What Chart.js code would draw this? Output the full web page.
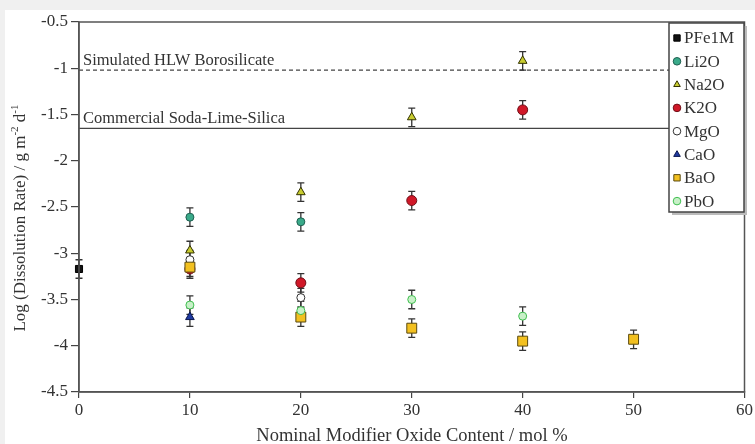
<!DOCTYPE html>
<html>
<head>
<meta charset="utf-8">
<script src="https://cdn.jsdelivr.net/npm/chart.js@4/dist/chart.umd.min.js"></script>
<style>
html,body{margin:0;padding:0;background:#f0f0f0;}
canvas{display:block;}
</style>
</head>
<body>
<canvas id="c" width="755" height="444"></canvas>
<script>
// ---- data ----
const seriesNames = ["PFe1M","Li2O","Na2O","K2O","MgO","CaO","BaO","PbO"];
const xPFe1M = [0];                 const yPFe1M = [-3.17];
const xLi2O  = [10,20];             const yLi2O  = [-2.61,-2.66];
const xNa2O  = [10,20,30,40];       const yNa2O  = [-2.97,-2.34,-1.53,-0.92];
const xK2O   = [10,20,30,40];       const yK2O   = [-3.17,-3.32,-2.43,-1.45];
const xMgO   = [10,20];             const yMgO   = [-3.07,-3.48];
const xCaO   = [10];                const yCaO   = [-3.69];
const xBaO   = [10,20,30,40,50];    const yBaO   = [-3.15,-3.69,-3.81,-3.95,-3.93];
const xPbO   = [10,20,30,40];       const yPbO   = [-3.56,-3.62,-3.50,-3.68];
const errPFe1M=[0.1]; const errLi2O=[0.1,0.1]; const errNa2O=[0.1,0.1,0.1,0.1];
const errK2O=[0.1,0.1,0.1,0.1]; const errMgO=[0.1,0.1]; const errCaO=[0.1];
const errBaO=[0.1,0.1,0.1,0.1,0.1]; const errPbO=[0.1,0.1,0.1,0.1];
const refLabels = ["Simulated HLW Borosilicate","Commercial Soda-Lime-Silica"];
const refValues = [-1.02,-1.65];
const xTicks = [0,10,20,30,40,50,60];
const yTicks = [-0.5,-1,-1.5,-2,-2.5,-3,-3.5,-4,-4.5];
const xTitle = 'Nominal Modifier Oxide Content / mol %';
const yTitleParts = [['Log (Dissolution Rate) / g m',0],['-2',1],[' d',0],['-1',1]];

const styles = [
  {pointStyle:'rect',     bg:'#111111', bc:'#000000', r:5},
  {pointStyle:'circle',   bg:'#3aaa8a', bc:'#1f5f50', r:4},
  {pointStyle:'triangle', bg:'#c8cc30', bc:'#333300', r:5},
  {pointStyle:'circle',   bg:'#d01828', bc:'#701018', r:5},
  {pointStyle:'circle',   bg:'#ffffff', bc:'#333333', r:4},
  {pointStyle:'triangle', bg:'#1f3aa0', bc:'#0a1650', r:5},
  {pointStyle:'rect',     bg:'#f2c020', bc:'#5a4a10', r:7},
  {pointStyle:'circle',   bg:'#c8f0c8', bc:'#40c050', r:4}
];
const xs = [xPFe1M,xLi2O,xNa2O,xK2O,xMgO,xCaO,xBaO,xPbO];
const ys = [yPFe1M,yLi2O,yNa2O,yK2O,yMgO,yCaO,yBaO,yPbO];
const es = [errPFe1M,errLi2O,errNa2O,errK2O,errMgO,errCaO,errBaO,errPbO];

const datasets = seriesNames.map((n,i)=>({
  label:n,
  order:-i,
  data: xs[i].map((x,j)=>({x:x,y:ys[i][j],e:es[i][j]})),
  showLine:false,
  clip:false,
  pointStyle:styles[i].pointStyle,
  pointRadius:styles[i].r,
  pointHoverRadius:styles[i].r,
  backgroundColor:styles[i].bg,
  borderColor:styles[i].bc,
  pointBorderWidth:1
}));

const SERIF = '"Liberation Serif","DejaVu Serif",serif';

const bgPlugin = {
  id:'bg',
  beforeDraw(chart){
    const ctx = chart.ctx;
    ctx.save();
    ctx.fillStyle = '#f0f0f0';
    ctx.fillRect(0,0,chart.width,chart.height);
    ctx.fillStyle = '#ffffff';
    ctx.fillRect(5,10,chart.width-5,chart.height-10);
    ctx.restore();
  }
};

const refPlugin = {
  id:'refs',
  beforeDatasetsDraw(chart){
    const ctx = chart.ctx, xs_ = chart.scales.x, ys_ = chart.scales.y, a = chart.chartArea;
    ctx.save();
    refValues.forEach((v,i)=>{
      const py = ys_.getPixelForValue(v);
      ctx.beginPath();
      ctx.strokeStyle = '#444';
      ctx.lineWidth = 1.2;
      ctx.setLineDash(i===0 ? [4,3] : []);
      ctx.moveTo(a.left, py); ctx.lineTo(a.right, py); ctx.stroke();
      ctx.setLineDash([]);
      ctx.fillStyle = '#333';
      ctx.font = '16.5px ' + SERIF;
      ctx.textBaseline = 'alphabetic';
      ctx.fillText(refLabels[i], a.left + 4, py - 5);
    });
    ctx.strokeStyle = '#333';
    ctx.lineWidth = 1.3;
    chart.data.datasets.forEach(ds=>{
      ds.data.forEach(p=>{
        const px = xs_.getPixelForValue(p.x);
        const top = ys_.getPixelForValue(p.y + p.e);
        const bot = ys_.getPixelForValue(p.y - p.e);
        ctx.beginPath();
        ctx.moveTo(px, top); ctx.lineTo(px, bot);
        ctx.moveTo(px-3.5, top); ctx.lineTo(px+3.5, top);
        ctx.moveTo(px-3.5, bot); ctx.lineTo(px+3.5, bot);
        ctx.stroke();
      });
    });
    ctx.restore();
  },
  afterDraw(chart){
    const ctx = chart.ctx, a = chart.chartArea;
    ctx.save();
    ctx.strokeStyle = '#555';
    ctx.lineWidth = 1.5;
    ctx.strokeRect(a.left, a.top, a.right - a.left, a.bottom - a.top);
    // y title with superscripts
    ctx.save();
    ctx.translate(21, 218);
    ctx.rotate(-Math.PI/2);
    ctx.fillStyle = '#333';
    ctx.textBaseline = 'middle';
    const fN = '17px ' + SERIF, fS = '11px ' + SERIF;
    let total = 0;
    yTitleParts.forEach(p=>{ ctx.font = p[1]?fS:fN; total += ctx.measureText(p[0]).width; });
    let cx = -total/2;
    yTitleParts.forEach(p=>{
      ctx.font = p[1]?fS:fN;
      ctx.fillText(p[0], cx, p[1] ? -6 : 0);
      cx += ctx.measureText(p[0]).width;
    });
    ctx.restore();
    // x title
    ctx.fillStyle = '#333';
    ctx.font = '18.5px ' + SERIF;
    ctx.textAlign = 'center';
    ctx.textBaseline = 'middle';
    ctx.fillText(xTitle, 412, 436);
    ctx.textAlign = 'left';
    // legend box
    const bx = 669, by = 23, bw = 75, bh = 189;
    ctx.fillStyle = '#bbb';
    ctx.fillRect(bx+3, by+3, bw, bh);
    ctx.fillStyle = '#fff';
    ctx.fillRect(bx, by, bw, bh);
    ctx.strokeStyle = '#444';
    ctx.lineWidth = 1.5;
    ctx.strokeRect(bx, by, bw, bh);
    ctx.font = '17px ' + SERIF;
    ctx.textBaseline = 'middle';
    chart.data.datasets.forEach((ds,i)=>{
      const cy = by + 15 + i*23.3;
      ctx.save();
      ctx.fillStyle = ds.backgroundColor; ctx.strokeStyle = ds.borderColor; ctx.lineWidth = 1;
      Chart.helpers.drawPoint(ctx, {
        pointStyle: ds.pointStyle, radius: ds.pointStyle==='rect' ? 4.5 : 3.8, rotation:0, borderWidth:1
      }, bx + 8, cy);
      ctx.restore();
      ctx.fillStyle = '#333';
      ctx.fillText(ds.label, bx + 15, cy + 1);
    });
    ctx.restore();
  }
};

new Chart(document.getElementById('c'), {
  type:'scatter',
  data:{datasets},
  plugins:[bgPlugin, refPlugin],
  options:{
    responsive:false,
    animation:false,
    devicePixelRatio:1,
    layout:{padding:{top:22,right:9,left:0,bottom:0}},
    plugins:{legend:{display:false},tooltip:{enabled:false}},
    scales:{
      x:{
        type:'linear', min:0, max:60,
        afterBuildTicks(s){ s.ticks = xTicks.map(v=>({value:v})); },
        afterFit(s){ s.height = 52; },
        grid:{display:true, drawOnChartArea:false, drawTicks:true, tickLength:6, color:'#444', lineWidth:1.2},
        border:{color:'#555', width:1.5},
        ticks:{color:'#333', font:{family:SERIF, size:17}, padding:2, maxRotation:0, callback:v=>String(v)},
        title:{display:false}
      },
      y:{
        type:'linear', min:-4.5, max:-0.5,
        afterBuildTicks(s){ s.ticks = yTicks.map(v=>({value:v})); },
        afterFit(s){ s.width = 79; },
        grid:{display:true, drawOnChartArea:false, drawTicks:true, tickLength:8, color:'#444', lineWidth:1.2},
        border:{color:'#555', width:1.5},
        ticks:{color:'#333', font:{family:SERIF, size:17}, padding:3, callback:v=>String(v)},
        title:{display:false}
      }
    }
  }
});
</script>
</body>
</html>
